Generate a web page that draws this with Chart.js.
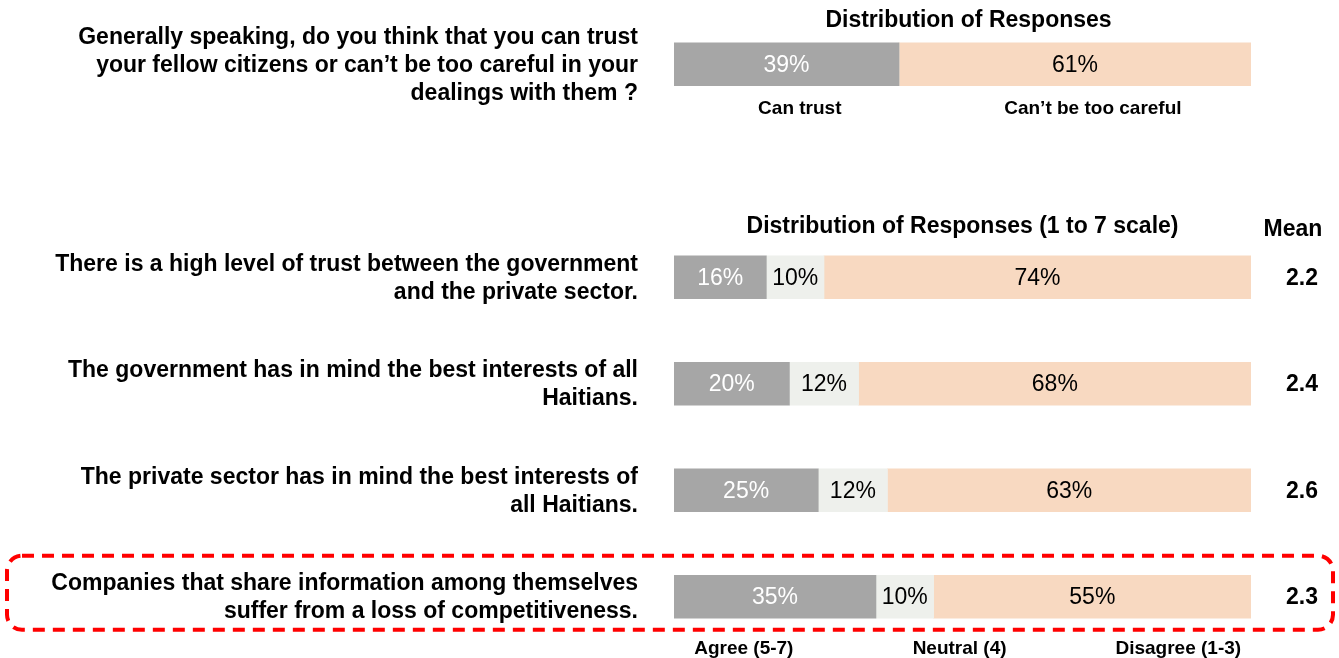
<!DOCTYPE html>
<html>
<head>
<meta charset="utf-8">
<script src="https://cdn.jsdelivr.net/npm/chart.js@4.4.0/dist/chart.umd.min.js"></script>
<style>
  html, body { margin: 0; padding: 0; background: #ffffff; }
  #wrap { width: 1339px; height: 658px; position: relative; }
</style>
</head>
<body>
<div id="wrap"><canvas id="c" width="1339" height="658"></canvas></div>
<script>
// ---- Data ----
const questions = [
  ["Generally speaking, do you think that you can trust", "your fellow citizens or can\u2019t be too careful in your", "dealings with them ?"],
  [],
  ["There is a high level of trust between the government", "and the private sector."],
  ["The government has in mind the best interests of all", "Haitians."],
  ["The private sector has in mind the best interests of", "all Haitians."],
  ["Companies that share information among themselves", "suffer from a loss of competitiveness."]
];
const agreeValues    = [39, null, 16, 20, 25, 35];
const neutralValues  = [0,  null, 10, 12, 12, 10];
const disagreeValues = [61, null, 74, 68, 63, 55];
const meanValues     = [null, null, "2.2", "2.4", "2.6", "2.3"];
const seriesNames = ["Agree (5-7)", "Neutral (4)", "Disagree (1-3)"];
const topCategoryNames = ["Can trust", "Can\u2019t be too careful"];
const title1 = "Distribution of Responses";
const title2 = "Distribution of Responses (1 to 7 scale)";
const meanTitle = "Mean";
const highlightedRow = 5;

// ---- Style ----
const FONT = "'Liberation Sans', Arial, sans-serif";
const COLORS = ["#a6a6a6", "#eef0ec", "#f8d9c1"];
const LABEL_COLORS = ["#ffffff", "#000000", "#000000"];

const textPlugin = {
  id: 'textPlugin',
  afterDatasetsDraw(chart) {
    const ctx = chart.ctx;
    const x = chart.scales.x, y = chart.scales.y;
    ctx.save();
    // segment value labels
    chart.data.datasets.forEach((ds, di) => {
      const meta = chart.getDatasetMeta(di);
      meta.data.forEach((bar, i) => {
        const v = ds.data[i];
        if (v == null || v === 0) return;
        ctx.font = "23px " + FONT;
        ctx.fillStyle = LABEL_COLORS[di];
        ctx.textAlign = "center";
        ctx.textBaseline = "middle";
        const cx = (bar.x + bar.base) / 2;
        ctx.fillText(v + "%", cx, bar.y + 1);
      });
    });
    // question labels
    ctx.font = "bold 23px " + FONT;
    ctx.fillStyle = "#000";
    ctx.textAlign = "right";
    ctx.textBaseline = "middle";
    const lh = 28;
    questions.forEach((lines, i) => {
      const cy = y.getPixelForValue(i);
      const start = cy - (lines.length - 1) * lh / 2;
      lines.forEach((l, k) => ctx.fillText(l, 638, start + k * lh + 1));
    });
    // means
    ctx.textAlign = "center";
    meanValues.forEach((m, i) => {
      if (m == null) return;
      ctx.fillText(m, 1302, y.getPixelForValue(i) + 1);
    });
    ctx.fillText(meanTitle, 1293, 230);
    // titles
    const mid = (x.left + x.right) / 2;
    ctx.fillText(title1, mid + 6, 21);
    ctx.fillText(title2, mid, 227);
    // category names
    ctx.font = "bold 19px " + FONT;
    const y0 = y.getPixelForValue(0);
    ctx.fillText(topCategoryNames[0], x.getPixelForValue(21.8), y0 + 45);
    ctx.fillText(topCategoryNames[1], x.getPixelForValue(72.6), y0 + 45);
    const yb = y.getPixelForValue(questions.length - 1);
    ctx.fillText(seriesNames[0], x.getPixelForValue(12.1), yb + 52);
    ctx.fillText(seriesNames[1], x.getPixelForValue(49.5), yb + 52);
    ctx.fillText(seriesNames[2], x.getPixelForValue(87.4), yb + 52);
    // highlight box
    const hy = y.getPixelForValue(highlightedRow);
    ctx.strokeStyle = "#ff0000";
    ctx.lineWidth = 4;
    ctx.setLineDash([12, 8]);
    ctx.beginPath();
    ctx.roundRect(7, hy - 41, 1326, 74, 15);
    ctx.stroke();
    ctx.restore();
  }
};

new Chart(document.getElementById('c'), {
  type: 'bar',
  data: {
    labels: questions.map((q, i) => "row" + i),
    datasets: [
      { label: seriesNames[0], data: agreeValues, backgroundColor: COLORS[0] },
      { label: seriesNames[1], data: neutralValues, backgroundColor: COLORS[1] },
      { label: seriesNames[2], data: disagreeValues, backgroundColor: COLORS[2] }
    ]
  },
  options: {
    indexAxis: 'y',
    responsive: false,
    animation: false,
    maintainAspectRatio: false,
    layout: { padding: { left: 674, right: 88, top: 11, bottom: 8 } },
    datasets: { bar: { barThickness: 43, borderWidth: 0 } },
    scales: {
      x: { stacked: true, min: 0, max: 100, display: false },
      y: { stacked: true, display: false }
    },
    plugins: { legend: { display: false }, tooltip: { enabled: false } }
  },
  plugins: [textPlugin]
});
</script>
</body>
</html>
